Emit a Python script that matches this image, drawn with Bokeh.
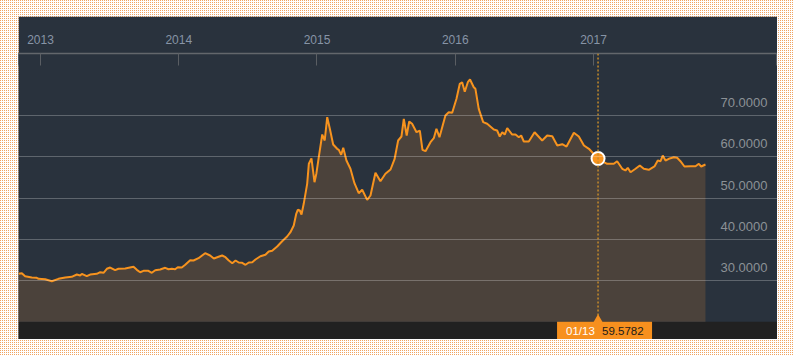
from bokeh.plotting import figure
from bokeh.layouts import column
from bokeh.models import Range1d, FixedTicker, BoxAnnotation, Span
from bokeh.core.properties import value
from bokeh.embed import file_html
from bokeh.resources import INLINE

# ---- data (decimal years, price) ----
years = [
    2012.841, 2012.865, 2012.889, 2012.937, 2012.973, 2012.986, 2013.034, 2013.082, 2013.130, 2013.179,
    2013.226, 2013.263, 2013.287, 2013.299, 2013.335, 2013.359, 2013.407, 2013.432, 2013.456, 2013.480,
    2013.504, 2013.540, 2013.564, 2013.613, 2013.673, 2013.697, 2013.721, 2013.745, 2013.781, 2013.805,
    2013.830, 2013.866, 2013.902, 2013.926, 2013.950, 2013.974, 2013.993, 2014.022, 2014.047, 2014.083,
    2014.107, 2014.143, 2014.191, 2014.227, 2014.254, 2014.288, 2014.314, 2014.338, 2014.362, 2014.387,
    2014.411, 2014.434, 2014.459, 2014.483, 2014.507, 2014.532, 2014.555, 2014.591, 2014.627, 2014.651,
    2014.676, 2014.712, 2014.748, 2014.784, 2014.808, 2014.832, 2014.850, 2014.861, 2014.876, 2014.888,
    2014.904, 2014.929, 2014.941, 2014.960, 2014.982, 2014.996, 2015.013, 2015.038, 2015.056, 2015.074,
    2015.093, 2015.117, 2015.146, 2015.158, 2015.175, 2015.190, 2015.213, 2015.242, 2015.271, 2015.302,
    2015.327, 2015.363, 2015.387, 2015.423, 2015.459, 2015.495, 2015.532, 2015.561, 2015.587, 2015.611,
    2015.628, 2015.649, 2015.667, 2015.688, 2015.720, 2015.744, 2015.763, 2015.785, 2015.821, 2015.845,
    2015.864, 2015.886, 2015.929, 2015.953, 2015.978, 2016.009, 2016.033, 2016.050, 2016.069, 2016.091,
    2016.107, 2016.134, 2016.146, 2016.170, 2016.202, 2016.231, 2016.279, 2016.303, 2016.322, 2016.340,
    2016.358, 2016.376, 2016.412, 2016.436, 2016.460, 2016.477, 2016.496, 2016.532, 2016.574, 2016.629,
    2016.665, 2016.702, 2016.738, 2016.774, 2016.805, 2016.858, 2016.894, 2016.931, 2016.967, 2016.992,
    2017.033, 2017.075, 2017.099, 2017.147, 2017.171, 2017.208, 2017.231, 2017.248, 2017.268, 2017.304,
    2017.335, 2017.364, 2017.400, 2017.441, 2017.465, 2017.485, 2017.501, 2017.521, 2017.545, 2017.581,
    2017.605, 2017.629, 2017.658, 2017.702, 2017.738, 2017.762, 2017.779, 2017.810,
]
prices = [
    31.62, 31.77, 31.04, 30.73, 30.65, 30.41, 30.32, 29.83, 30.41, 30.73,
    30.90, 31.45, 31.21, 31.62, 31.04, 31.45, 31.62, 32.01, 31.87, 32.84,
    33.15, 32.50, 32.84, 32.91, 33.32, 32.59, 32.01, 32.35, 32.35, 31.87,
    32.50, 32.67, 33.08, 32.74, 32.84, 32.74, 33.22, 33.15, 33.81, 34.92,
    34.85, 35.41, 36.62, 36.06, 35.33, 35.75, 36.06, 35.65, 34.85, 34.19,
    34.85, 34.36, 34.29, 33.81, 34.36, 34.44, 35.09, 35.89, 36.23, 37.03,
    37.20, 38.24, 39.53, 40.67, 41.71, 43.33, 46.17, 47.14, 46.97, 46.00,
    48.59, 53.44, 58.29, 59.58, 53.83, 56.01, 59.89, 65.39, 63.94, 69.59,
    66.78, 62.97, 61.93, 61.68, 60.47, 62.17, 59.09, 57.08, 53.59, 51.16,
    51.99, 49.56, 50.61, 56.11, 54.07, 55.87, 56.91, 59.41, 63.94, 64.91,
    69.20, 65.15, 68.55, 67.99, 65.95, 66.36, 61.68, 61.35, 63.53, 64.50,
    66.78, 64.74, 70.00, 70.80, 70.65, 74.05, 77.68, 78.07, 75.75, 78.07,
    78.73, 76.86, 76.47, 71.62, 68.38, 67.99, 66.61, 66.36, 64.91, 65.95,
    65.39, 66.92, 65.39, 65.39, 64.74, 65.15, 63.70, 63.70, 65.95, 63.94,
    65.15, 64.98, 62.73, 63.04, 62.48, 65.81, 64.91, 62.73, 61.93, 61.03,
    59.5782, 58.68, 58.29, 58.29, 58.92, 57.08, 56.67, 57.32, 56.25, 57.08,
    57.88, 57.08, 56.84, 57.64, 59.09, 58.92, 60.30, 59.09, 59.50, 59.89,
    59.75, 58.92, 57.64, 57.71, 57.71, 58.29, 57.64, 58.12,
]
year_ticks = [2013, 2014, 2015, 2016, 2017]
year_labels = ["2013", "2014", "2015", "2016", "2017"]
price_ticks = [30, 40, 50, 60, 70]
price_labels = ["30.0000", "40.0000", "50.0000", "60.0000", "70.0000"]
cursor_year = 2017.033
cursor_label = "01/13"
cursor_value = 59.5782

# ---- layout ----
PW, PH = 759, 323          # dark panel
AXIS_H = 37                # axis band at top of the panel
x_start, x_end = years[0], 2018.331
y_start, y_end = 15.7, 85.03
base = 20
px_per_year = PW / (x_end - x_start)

BG = "#29323d"
ORANGE = "#f7931e"

p = figure(width=PW, height=PH, output_backend="svg", toolbar_location=None,
           x_range=Range1d(x_start, x_end), y_range=Range1d(y_start, y_end),
           x_axis_location="above", y_axis_location=None,
           min_border_left=0, min_border_right=0, min_border_top=AXIS_H,
           min_border_bottom=0)
p.background_fill_color = BG
p.border_fill_color = BG
p.outline_line_color = None
p.margin = (16, 17, 17, 18)

# bottom bar
p.add_layout(BoxAnnotation(top=base, fill_color="#212121", fill_alpha=1,
                           line_alpha=0, level="underlay"))

# grid
p.xgrid.visible = False
p.ygrid.ticker = FixedTicker(ticks=price_ticks)
p.ygrid.grid_line_color = "white"
p.ygrid.grid_line_alpha = 0.25
p.ygrid.grid_line_width = 1
p.ygrid.level = "annotation"

# series
p.varea(x=years, y1=base, y2=prices, fill_color="#4b423b", fill_alpha=1)
p.line(years, prices, line_color=ORANGE, line_width=2)

# top axis
ax = p.xaxis[0]
ax.ticker = FixedTicker(ticks=year_ticks,
                        minor_ticks=[x_start, x_end - 1.0 / px_per_year])
ax.major_label_overrides = dict(zip(year_ticks, year_labels))
ax.axis_line_color = "#63676c"
ax.axis_line_width = 1.5
ax.major_tick_line_color = "#5a5e63"
ax.major_tick_in = 12
ax.major_tick_out = 0
ax.minor_tick_line_color = "#5a5e63"
ax.minor_tick_in = 12
ax.minor_tick_out = 0
ax.major_label_standoff = 10
ax.major_label_text_color = "#8794a6"
ax.major_label_text_font = "Liberation Sans"
ax.major_label_text_font_size = "12px"

# right-side price labels
p.text(x=[x_end] * len(price_ticks), y=price_ticks, text=price_labels,
       x_offset=-10, y_offset=-13, text_align="right", text_baseline="middle",
       text_color="#8c9196", text_font=value("Liberation Sans"),
       text_font_size="13px")

# cursor
p.add_layout(Span(location=cursor_year, dimension="height", line_color="#c38a2c",
                  line_dash="2 2", line_width=1.5))
p.scatter([cursor_year], [cursor_value], size=13, fill_color=ORANGE,
          line_color="white", line_width=2)

# tooltip
box = p.quad(left=[cursor_year - 41 / px_per_year],
             right=[cursor_year + 54 / px_per_year],
             top=[base], bottom=[y_start], fill_color="#f7901e", line_color=None)
box.level = "overlay"
tri = p.scatter([cursor_year], [base], marker="triangle", size=13,
                fill_color="#f7901e", line_color=None)
tri.level = "overlay"
mid = (y_start + base) / 2
t1 = p.text([cursor_year], [mid], text=[cursor_label], x_offset=-32,
            text_align="left", text_baseline="middle", text_color="white",
            text_font=value("Liberation Sans"), text_font_size="11.5px")
t1.level = "overlay"
t2 = p.text([cursor_year], [mid], text=[f"{cursor_value:.4f}"], x_offset=4,
            text_align="left", text_baseline="middle", text_color="#1a1a1a",
            text_font=value("Liberation Sans"), text_font_size="11.5px")
t2.level = "overlay"

page = column(p, styles={
    "background-color": "white",
    "background-image": "conic-gradient(at 1px 1px, transparent 75%, #f0a462 0)",
    "background-size": "2px 2px",
})

open("out.html", "w").write(file_html(page, INLINE))
